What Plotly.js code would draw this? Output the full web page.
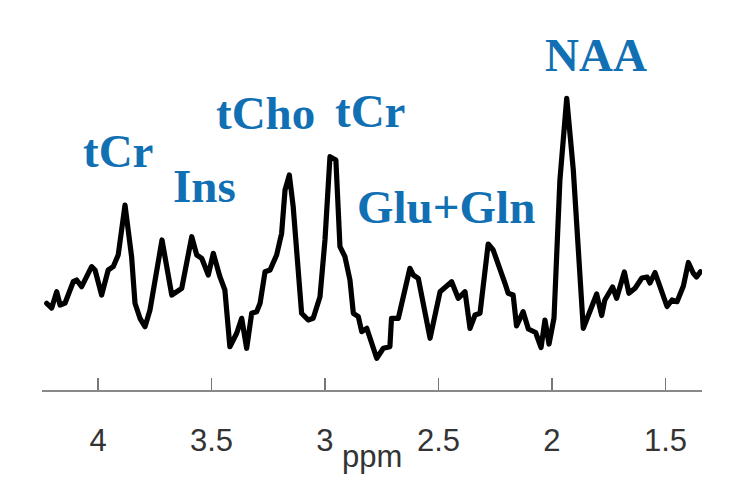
<!DOCTYPE html>
<html>
<head>
<meta charset="utf-8">
<script src="https://cdn.plot.ly/plotly-3.0.1.min.js"></script>
<style>html,body{margin:0;padding:0;background:#fff;}#chart{width:734px;height:477px;}
#chart .scatterlayer path.js-line{stroke-linejoin:round;stroke-linecap:round;}</style>
</head>
<body>
<div id="chart"></div>
<script>
// Chemical shift (ppm) of each traced point of the spectrum
const ppm = [4.226,4.204,4.182,4.167,4.145,4.109,4.094,4.072,4.028,4.013,3.984,3.955,3.933,3.911,3.881,3.852,3.837,3.815,3.793,3.771,3.718,3.675,3.631,3.587,3.565,3.543,3.514,3.492,3.463,3.441,3.419,3.389,3.367,3.345,3.323,3.301,3.286,3.264,3.242,3.213,3.191,3.176,3.157,3.140,3.103,3.074,3.052,3.022,3.000,2.978,2.952,2.934,2.912,2.890,2.875,2.853,2.838,2.816,2.772,2.743,2.714,2.707,2.677,2.626,2.611,2.589,2.537,2.493,2.442,2.413,2.383,2.361,2.339,2.317,2.281,2.259,2.207,2.193,2.171,2.156,2.127,2.104,2.072,2.048,2.031,2.013,1.991,1.965,1.935,1.906,1.862,1.833,1.803,1.781,1.767,1.733,1.715,1.681,1.661,1.634,1.604,1.581,1.568,1.546,1.524,1.493,1.471,1.449,1.421,1.399,1.377,1.363,1.346];
// Signal intensity (arbitrary units)
const intensity = [8.67,8.2,9.83,8.5,8.7,10.83,11.0,10.33,12.33,12.0,9.5,12.0,12.33,13.5,18.5,13.33,8.67,7.17,6.33,8.0,15.0,9.5,10.17,15.33,13.5,13.17,11.5,13.67,11.33,10.0,4.33,5.67,7.17,4.17,7.67,7.83,8.67,11.83,12.0,13.5,15.67,20.0,21.5,18.33,7.67,7.0,7.17,9.33,15.0,23.33,23.0,14.33,13.33,11.0,7.67,7.33,5.83,6.17,3.17,4.17,4.33,7.17,7.17,12.17,11.5,11.17,5.17,9.83,10.83,9.17,9.83,6.17,7.5,7.67,14.6,14.0,10.67,9.67,9.5,6.4,7.83,6.1,5.75,4.25,7.0,4.6,7.2,21.0,29.17,22.0,6.17,7.9,9.6,7.45,9.0,10.3,9.17,11.8,9.67,10.17,11.2,11.3,10.7,11.75,10.25,8.35,9.0,8.83,10.4,12.75,11.67,11.3,11.83];
// Metabolite labels
const labels = ["tCr","Ins","tCho","tCr","Glu+Gln","NAA"];
const tickVals = [4,3.5,3,2.5,2,1.5];
const tickText = ["4","3.5","3","2.5","2","1.5"];
const xTitle = "ppm";

const labelPos = [
  [3.912, 21.1],
  [3.529, 17.63],
  [3.260, 24.87],
  [2.802, 25.13],
  [2.467, 15.5],
  [1.806, 30.73]
];

const annotations = labels.map((t,i)=>({
  text: t, x: labelPos[i][0], y: labelPos[i][1], xref:'x', yref:'y',
  xanchor:'center', yanchor:'bottom', showarrow:false,
  font:{family:'"Liberation Serif","Times New Roman",serif', size:47, color:'#1170b3', weight:'bold'}
}));
// axis title, kept low near the bottom edge as in the original
annotations.push({
  text: xTitle, x:0.5, y:-0.2606, xref:'paper', yref:'paper',
  xanchor:'center', yanchor:'bottom', showarrow:false,
  font:{family:'"Liberation Sans",Arial,sans-serif', size:31, color:'#333'}
});

const trace = {
  x: ppm, y: intensity, type:'scatter', mode:'lines',
  line:{color:'#000', width:5.2, shape:'linear'},
  hoverinfo:'skip'
};

const layout = {
  width:734, height:477,
  margin:{l:42, r:32, t:60, b:87},
  paper_bgcolor:'#fff', plot_bgcolor:'#fff',
  showlegend:false,
  xaxis:{
    range:[4.2467,1.339], tickvals:tickVals, ticktext:tickText,
    ticks:'inside', ticklen:12, tickwidth:1.5, tickcolor:'#777',
    showline:true, linecolor:'#888', linewidth:2,
    showgrid:false, zeroline:false,
    ticklabelstandoff:22,
    tickfont:{family:'"Liberation Sans",Arial,sans-serif', size:31, color:'#333'}
  },
  yaxis:{range:[0,33], visible:false, showgrid:false, zeroline:false},
  annotations: annotations
};

Plotly.newPlot('chart',[trace],layout,{displayModeBar:false,staticPlot:true});
</script>
</body>
</html>
